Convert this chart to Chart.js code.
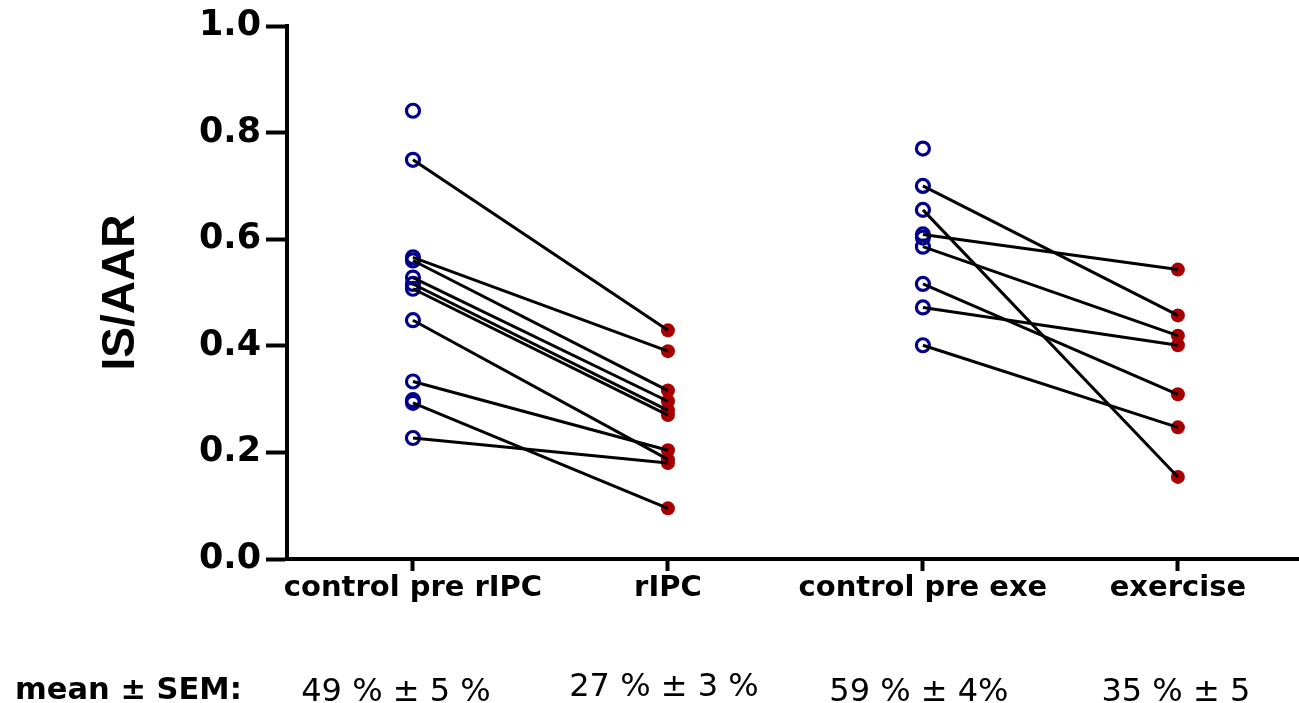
<!DOCTYPE html>
<html>
<head>
<meta charset="utf-8">
<script src="https://cdn.jsdelivr.net/npm/chart.js@4"></script>
<style>
  html, body { margin: 0; padding: 0; background: #fff; overflow: hidden; }
  #wrap { width: 1299px; height: 703px; }
  canvas { display: block; }
</style>
</head>
<body>
<div id="wrap"><canvas id="isChart"></canvas></div>
<script>
const categories = ["control pre rIPC", "rIPC", "control pre exe", "exercise"];
const yTicks = [0.0, 0.2, 0.4, 0.6, 0.8, 1.0];

// paired values (same index = same subject)
const ripcPre  = [0.749, 0.566, 0.560, 0.528, 0.516, 0.507, 0.448, 0.333, 0.293, 0.227];
const ripcPost = [0.429, 0.390, 0.316, 0.296, 0.279, 0.270, 0.187, 0.204, 0.095, 0.180];
const ripcPreOnly = [0.841, 0.298];

const exePre  = [0.700, 0.655, 0.609, 0.586, 0.516, 0.472, 0.401];
const exePost = [0.457, 0.154, 0.543, 0.419, 0.309, 0.401, 0.247];
const exePreOnly = [0.770, 0.603];

const meanLabel = "mean \u00b1 SEM:";
const meanValues = ["49 % \u00b1 5 %", "27 % \u00b1 3 %", "59 % \u00b1 4%", "35 % \u00b1 5"];

const navy = "#00008b";
const red = "#a80000";

const controlPts = [
  ...ripcPre.concat(ripcPreOnly).map(v => ({ x: 0, y: v })),
  ...exePre.concat(exePreOnly).map(v => ({ x: 2, y: v }))
];
const treatedPts = [
  ...ripcPost.map(v => ({ x: 1, y: v })),
  ...exePost.map(v => ({ x: 3, y: v }))
];

const pairLines = [];
ripcPre.forEach((v, i) => pairLines.push([{ x: 0, y: v }, { x: 1, y: ripcPost[i] }]));
exePre.forEach((v, i) => pairLines.push([{ x: 2, y: v }, { x: 3, y: exePost[i] }]));

const datasets = pairLines.map(d => ({
  type: "line",
  data: d,
  borderColor: "#000",
  borderWidth: 3,
  pointRadius: 0,
  order: 0
}));
datasets.push({
  data: controlPts,
  pointStyle: "circle",
  pointRadius: 6.5,
  pointBorderWidth: 3.2,
  pointBorderColor: navy,
  pointBackgroundColor: "rgba(255,255,255,0)",
  order: 1
});
datasets.push({
  data: treatedPts,
  pointStyle: "circle",
  pointRadius: 7,
  pointBorderWidth: 0,
  pointBackgroundColor: red,
  pointBorderColor: red,
  order: 1
});

const meanRow = {
  id: "meanRow",
  afterDraw(chart) {
    const ctx = chart.ctx;
    const x = chart.scales.x;
    ctx.save();
    ctx.fillStyle = "#000";
    ctx.textBaseline = "alphabetic";
    ctx.textAlign = "left";
    ctx.font = "bold 30.5px 'DejaVu Sans'";
    ctx.fillText(meanLabel, 15, 699);
    ctx.textAlign = "center";
    ctx.font = "32px 'DejaVu Sans'";
    const dx = [-17, -4, -4, -2];
    const dy = [0, -5, 0, 0];
    meanValues.forEach((t, i) => {
      ctx.fillText(t, x.getPixelForValue(i) + dx[i], 701 + dy[i]);
    });
    ctx.restore();
  }
};

new Chart(document.getElementById("isChart"), {
  type: "scatter",
  data: { datasets },
  options: {
    responsive: true,
    maintainAspectRatio: false,
    animation: false,
    layout: { autoPadding: false, padding: { top: 25, left: 0, right: 0, bottom: 0 } },
    plugins: { legend: { display: false }, tooltip: { enabled: false } },
    scales: {
      x: {
        type: "linear",
        min: -0.494,
        max: 3.475,
        afterBuildTicks: s => { s.ticks = categories.map((c, i) => ({ value: i })); },
        afterFit: s => { s.height = 144; s.paddingLeft = 0; s.paddingRight = 0; },
        ticks: {
          callback: v => categories[v],
          color: "#000",
          font: { family: "DejaVu Sans", weight: "bold", size: 29 },
          padding: 0,
          maxRotation: 0,
          autoSkip: false
        },
        grid: { drawOnChartArea: false, drawTicks: true, tickLength: 12, tickColor: "#000", tickWidth: 4 },
        border: { display: true, color: "#000", width: 4 }
      },
      y: {
        min: 0,
        max: 1,
        afterBuildTicks: s => { s.ticks = yTicks.map(v => ({ value: v })); },
        afterFit: s => { s.width = 287; },
        ticks: {
          callback: v => v.toFixed(1),
          color: "#000",
          font: { family: "DejaVu Sans", weight: "bold", size: 35 },
          padding: 5
        },
        grid: { drawOnChartArea: false, drawTicks: true, tickLength: 21, tickColor: "#000", tickWidth: 4 },
        border: { display: true, color: "#000", width: 4 },
        title: {
          display: true,
          text: "IS/AAR",
          color: "#000",
          font: { family: "Liberation Sans", weight: "bold", size: 46 },
          padding: { top: 94, bottom: 0 }
        }
      }
    }
  },
  plugins: [meanRow]
});
</script>
</body>
</html>
